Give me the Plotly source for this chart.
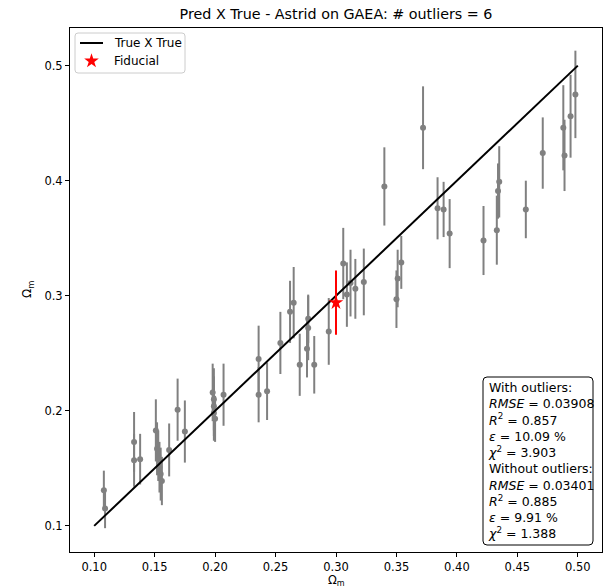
import plotly.graph_objects as go

# True vs predicted Omega_m with per-sample uncertainty
omega_true = [0.108, 0.109, 0.133, 0.133, 0.138, 0.151, 0.152, 0.153, 0.154, 0.155,
              0.156, 0.162, 0.169, 0.175, 0.198, 0.199, 0.199, 0.199, 0.200, 0.207,
              0.236, 0.236, 0.243, 0.254, 0.262, 0.265, 0.270, 0.277, 0.277, 0.276,
              0.282, 0.294, 0.306, 0.309, 0.312, 0.316, 0.323, 0.340, 0.350, 0.351,
              0.354, 0.372, 0.384, 0.389, 0.394, 0.422, 0.433, 0.434, 0.435, 0.457,
              0.471, 0.488, 0.489, 0.494, 0.498]
omega_pred = [0.131, 0.115, 0.173, 0.157, 0.158, 0.183, 0.167, 0.161, 0.151, 0.145,
              0.139, 0.166, 0.201, 0.182, 0.216, 0.210, 0.204, 0.198, 0.193, 0.214,
              0.245, 0.214, 0.217, 0.259, 0.286, 0.294, 0.240, 0.280, 0.272, 0.254,
              0.240, 0.269, 0.328, 0.301, 0.311, 0.306, 0.312, 0.395, 0.297, 0.315,
              0.329, 0.446, 0.376, 0.375, 0.354, 0.348, 0.357, 0.391, 0.399, 0.375,
              0.424, 0.446, 0.422, 0.456, 0.475]
omega_err = [0.017, 0.017, 0.026, 0.023, 0.022, 0.027, 0.023, 0.022, 0.022, 0.023,
             0.021, 0.023, 0.027, 0.027, 0.025, 0.027, 0.026, 0.024, 0.020, 0.027,
             0.029, 0.024, 0.025, 0.027, 0.027, 0.031, 0.027, 0.021, 0.028, 0.025,
             0.025, 0.029, 0.031, 0.028, 0.029, 0.026, 0.029, 0.034, 0.025, 0.025,
             0.023, 0.036, 0.027, 0.024, 0.030, 0.030, 0.030, 0.024, 0.031, 0.025,
             0.031, 0.037, 0.031, 0.036, 0.038]

# identity line and fiducial cosmology
identity_x = [0.1, 0.5]
fiducial_true = [0.3]
fiducial_pred = [0.294]
fiducial_err = [0.028]

x_ticks = [0.10, 0.15, 0.20, 0.25, 0.30, 0.35, 0.40, 0.45, 0.50]
y_ticks = [0.1, 0.2, 0.3, 0.4, 0.5]

legend_labels = ["True X True", "Fiducial"]

stats_text = ("With outliers:<br>"
              "<i>RMSE</i> = 0.03908<br>"
              "<i>R</i><sup>2</sup> = 0.857<br>"
              "<i>ε</i> = 10.09 %<br>"
              "<i>χ</i><sup>2</sup> = 3.903<br>"
              "Without outliers:<br>"
              "<i>RMSE</i> = 0.03401<br>"
              "<i>R</i><sup>2</sup> = 0.885<br>"
              "<i>ε</i> = 9.91 %<br>"
              "<i>χ</i><sup>2</sup> = 1.388")

FONT = "DejaVu Sans"
GRAY = "#808080"
W, H = 604, 587
ML, MR, MT, MB = 70, 2, 28, 35
PW, PH = W - ML - MR, H - MT - MB


def px_x(px):
    """pixel column -> paper fraction of the plot area"""
    return (px - ML) / PW


def px_y(py):
    """pixel row -> paper fraction of the plot area"""
    return 1 - (py - MT) / PH


def rounded_box(x0, y0, x1, y1, r):
    """SVG path of a rounded rectangle, given in paper fractions, radius in px"""
    rx, ry = r / PW, r / PH
    X0, X1 = px_x(x0), px_x(x1)
    Yt, Yb = px_y(y0), px_y(y1)
    return (f"M{X0 + rx},{Yt} L{X1 - rx},{Yt} Q{X1},{Yt} {X1},{Yt - ry} "
            f"L{X1},{Yb + ry} Q{X1},{Yb} {X1 - rx},{Yb} L{X0 + rx},{Yb} "
            f"Q{X0},{Yb} {X0},{Yb + ry} L{X0},{Yt - ry} Q{X0},{Yt} {X0 + rx},{Yt} Z")


fig = go.Figure()

fig.add_trace(go.Scatter(
    x=omega_true, y=omega_pred, mode="markers",
    marker=dict(color=GRAY, size=6),
    error_y=dict(type="data", array=omega_err, color=GRAY, thickness=2, width=0),
    showlegend=False,
))

fig.add_trace(go.Scatter(
    x=identity_x, y=identity_x, mode="lines",
    line=dict(color="black", width=2),
    name=legend_labels[0], showlegend=False,
))

fig.add_trace(go.Scatter(
    x=fiducial_true, y=fiducial_pred, mode="markers",
    marker=dict(color="red", size=11, symbol="star", line=dict(width=0)),
    error_y=dict(type="data", array=fiducial_err, color="red", thickness=2, width=0),
    name=legend_labels[1], showlegend=False,
))

# legend box drawn by hand (compact, rounded); sits under the legend symbols
fig.add_shape(type="path", xref="paper", yref="paper", layer="below",
              path=rounded_box(75, 33, 185, 73, 3),
              fillcolor="white", line=dict(color="#cccccc", width=1))
fig.add_shape(type="line", xref="paper", yref="paper", layer="above",
              x0=px_x(80), x1=px_x(103), y0=px_y(43), y1=px_y(43),
              line=dict(color="black", width=2))
# star symbol of the legend, on an invisible overlay axis spanning the plot area
fig.add_trace(go.Scatter(
    x=[px_x(91.5)], y=[px_y(61)], mode="markers", xaxis="x2", yaxis="y2",
    marker=dict(color="red", size=11, symbol="star", line=dict(width=0)),
    showlegend=False, hoverinfo="skip", cliponaxis=False,
))
for label, py in zip(legend_labels, [43, 61]):
    fig.add_annotation(text=label, xref="paper", yref="paper", x=px_x(112), y=px_y(py),
                       xanchor="left", yanchor="middle", showarrow=False,
                       font=dict(family=FONT, size=12, color="black"))

# statistics box
fig.add_shape(type="path", xref="paper", yref="paper", layer="above",
              path=rounded_box(483, 377, 593, 545, 4),
              fillcolor="white", line=dict(color="black", width=1))
fig.add_annotation(
    text=stats_text, xref="paper", yref="paper", x=px_x(486), y=px_y(378),
    xanchor="left", yanchor="top", align="left", showarrow=False,
    font=dict(family=FONT, size=12.5, color="black"),
)

# axis titles
fig.add_annotation(text="Ω<sub>m</sub>", xref="paper", yref="paper",
                   x=0.5, y=px_y(580), xanchor="center", yanchor="middle",
                   showarrow=False, font=dict(family=FONT, size=11.5, color="black"))
fig.add_annotation(text="Ω<sub>m</sub>", xref="paper", yref="paper",
                   x=px_x(28), y=0.5, xanchor="center", yanchor="middle", textangle=-90,
                   showarrow=False, font=dict(family=FONT, size=12, color="black"))

axis_common = dict(
    showgrid=False, zeroline=False, showline=True, mirror=True, automargin=False,
    linecolor="black", linewidth=1, ticks="outside", ticklen=4,
    tickcolor="black", tickfont=dict(family=FONT, size=11.5, color="black"),
)

fig.update_xaxes(range=[0.08, 0.52], tickvals=x_ticks,
                 ticktext=[f"{v:.2f}" for v in x_ticks], **axis_common)
fig.update_yaxes(range=[0.0773, 0.5327], tickvals=y_ticks,
                 ticktext=[f"{v:.1f}" for v in y_ticks], **axis_common)

fig.update_layout(
    width=W, height=H,
    margin=dict(l=ML, r=MR, t=MT, b=MB),
    paper_bgcolor="white", plot_bgcolor="white",
    showlegend=False,
    xaxis2=dict(overlaying="x", range=[0, 1], visible=False, fixedrange=True),
    yaxis2=dict(overlaying="y", range=[0, 1], visible=False, fixedrange=True),
    title=dict(text="Pred X True - Astrid on GAEA: # outliers = 6",
               x=0.5, xanchor="center", xref="paper", y=1 - 14 / H, yanchor="middle",
               font=dict(family=FONT, size=14.3, color="black")),
    font=dict(family=FONT),
)

fig.write_html("out.html")
